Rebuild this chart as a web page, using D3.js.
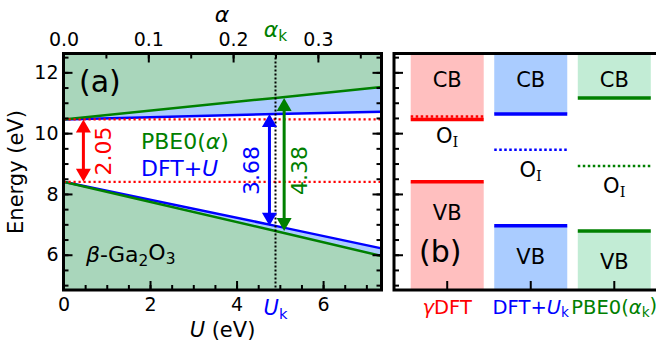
<!DOCTYPE html>
<html>
<head>
<meta charset="utf-8">
<script src="https://d3js.org/d3.v7.min.js"></script>
<style>
  body { margin: 0; background: #fff; }
  svg { display: block; font-family: "DejaVu Sans", sans-serif; }
  .axis path { display: none; }
  .axis line { stroke: #000; stroke-width: 2; }
  .axis text { font-size: 19px; fill: #000; font-family: "DejaVu Sans", sans-serif; }
</style>
</head>
<body>
<svg id="chart" width="656" height="343"></svg>
<script>
// panel (a): band edges against U (DFT+U) and alpha (PBE0)
const uPts = [0, 4.9, 7.35];
const dftuCB = [10.45, 10.63, 10.70];
const dftuVB = [8.40, 6.95, 6.21];
const alphaPts = [0, 0.25, 0.375];
const pbe0CB = [10.45, 11.16, 11.52];
const pbe0VB = [8.40, 6.78, 5.96];
const gdftCB = 10.45, gdftVB = 8.40;
const Uk = 4.9, alphaK = 0.25;
const gapLabels = ["2.05", "3.68", "4.38"];
const uTicks = [0, 2, 4, 6];
const alphaTicks = [0, 0.1, 0.2, 0.3];
const eTicks = [6, 8, 10, 12];

// panel (b): level diagram
const methods = ["gDFT", "DFTU", "PBE0"];
const cbLevels = [10.45, 10.63, 11.16];
const vbLevels = [8.40, 6.95, 6.78];
const oiLevels = [10.55, 9.45, 8.92];

const RED = "#ff0000", BLUE = "#0000ff", GREEN = "#008000";
const lineCols = [RED, BLUE, GREEN];
const fillsB = ["#ffbfbf", "#aaccff", "#c2ecd5"];

const svg = d3.select("#chart");
const yTop = 53.5, yBot = 290;

const y = d3.scaleLinear().domain([4.84, 12.62]).range([yBot, yTop]);
const x = d3.scaleLinear().domain([0, 7.35]).range([63.5, 381.5]);
const xa = d3.scaleLinear().domain([0, 0.375]).range([63.5, 381.5]);

// write text with italic / subscript pieces
function rich(sel, parts) {
    let shift = 0;
    parts.forEach(p => {
        const ts = sel.append("tspan").text(p.t);
        if (p.i) ts.attr("font-style", "italic");
        if (p.serif) ts.attr("font-family", "DejaVu Serif");
        const want = p.sub ? 0.25 : 0;
        if (want !== shift) { ts.attr("dy", (want - shift) + "em"); shift = want; }
        if (p.sub) ts.attr("font-size", "70%");
    });
    return sel;
}

// ---------- panel (a) ----------
const ga = svg.append("g");
ga.append("clipPath").attr("id", "clipA").append("rect")
    .attr("x", x.range()[0]).attr("y", yTop)
    .attr("width", x.range()[1] - x.range()[0]).attr("height", yBot - yTop);
const plotA = ga.append("g").attr("clip-path", "url(#clipA)");

const uRows = uPts.map((u, i) => ({ x: x(u), cb: dftuCB[i], vb: dftuVB[i] }));
const aRows = alphaPts.map((a, i) => ({ x: xa(a), cb: pbe0CB[i], vb: pbe0VB[i] }));

const areaUp = d3.area().x(d => d.x).y0(yTop).y1(d => y(d.cb));
const areaDn = d3.area().x(d => d.x).y0(yBot).y1(d => y(d.vb));
plotA.append("path").datum(uRows).attr("d", areaUp).attr("fill", "#abcbfe");
plotA.append("path").datum(uRows).attr("d", areaDn).attr("fill", "#abcbfe");
plotA.append("path").datum(aRows).attr("d", areaUp).attr("fill", "#a9d6bb");
plotA.append("path").datum(aRows).attr("d", areaDn).attr("fill", "#a9d6bb");

const lineCB = d3.line().x(d => d.x).y(d => y(d.cb));
const lineVB = d3.line().x(d => d.x).y(d => y(d.vb));
[[uRows, BLUE], [aRows, GREEN]].forEach(([rows, c]) => {
    plotA.append("path").datum(rows).attr("d", lineCB).attr("fill", "none")
        .attr("stroke", c).attr("stroke-width", 2.5);
    plotA.append("path").datum(rows).attr("d", lineVB).attr("fill", "none")
        .attr("stroke", c).attr("stroke-width", 2.5);
});

// gDFT reference levels
[gdftCB, gdftVB].forEach(e => {
    plotA.append("line").attr("x1", x.range()[0]).attr("x2", x.range()[1])
        .attr("y1", y(e)).attr("y2", y(e))
        .attr("stroke", RED).attr("stroke-width", 2.2).attr("stroke-dasharray", "2.2,2.8");
});

// U_k / alpha_k marker
plotA.append("line").attr("x1", x(Uk)).attr("x2", x(Uk)).attr("y1", yTop).attr("y2", yBot)
    .attr("stroke", "#000").attr("stroke-width", 2).attr("stroke-dasharray", "2,2");

function arrow(u, lo, hi, color) {
    const px = x(u), yb = y(lo), yt = y(hi), hl = 13, hw = 7.5;
    plotA.append("line").attr("x1", px).attr("x2", px).attr("y1", yb - hl + 1).attr("y2", yt + hl - 1)
        .attr("stroke", color).attr("stroke-width", 3);
    plotA.append("path").attr("fill", color)
        .attr("d", `M${px},${yt}L${px - hw},${yt + hl}L${px + hw},${yt + hl}Z`);
    plotA.append("path").attr("fill", color)
        .attr("d", `M${px},${yb}L${px - hw},${yb - hl}L${px + hw},${yb - hl}Z`);
}
arrow(0.46, gdftVB, gdftCB, RED);
arrow(4.76, dftuVB[1], dftuCB[1], BLUE);
arrow(5.10, pbe0VB[1], pbe0CB[1], GREEN);

function vlabel(u, e, txt, color) {
    plotA.append("text").attr("transform", `translate(${x(u)},${y(e)}) rotate(-90)`)
        .attr("text-anchor", "middle").attr("dy", "0.36em")
        .attr("font-size", 22).attr("fill", color).text(txt);
}
vlabel(0.91, 9.41, gapLabels[0], RED);
vlabel(4.33, 8.77, gapLabels[1], BLUE);
vlabel(5.44, 8.77, gapLabels[2], GREEN);

rich(plotA.append("text").attr("x", 141).attr("y", 149).attr("font-size", 22).attr("fill", GREEN),
    [{ t: "PBE0(" }, { t: "α", i: true }, { t: ")" }]);
rich(plotA.append("text").attr("x", 141).attr("y", 176).attr("font-size", 22).attr("fill", BLUE),
    [{ t: "DFT+" }, { t: "U", i: true }]);
rich(plotA.append("text").attr("x", 86).attr("y", 262).attr("font-size", 22).attr("fill", "#000"),
    [{ t: "β", i: true }, { t: "-Ga" }, { t: "2", sub: true }, { t: "O" }, { t: "3", sub: true }]);
plotA.append("text").attr("x", 79).attr("y", 92).attr("font-size", 30).text("(a)");

// axes of panel (a)
function tickAxis(axis, tf) {
    return g => { g.attr("class", "axis").call(axis); if (!tf) g.selectAll("text").remove(); };
}
const minorE = d3.range(5, 12.6, 0.5);
ga.append("g").attr("transform", `translate(${x.range()[0]},0)`)
    .call(tickAxis(d3.axisLeft(y).tickValues(minorE).tickSize(-5), false));
ga.append("g").attr("transform", `translate(${x.range()[0]},0)`)
    .call(tickAxis(d3.axisLeft(y).tickValues(eTicks).tickSize(-9).tickPadding(5).tickFormat(d3.format("d")), true));
ga.append("g").attr("transform", `translate(${x.range()[1]},0)`)
    .call(tickAxis(d3.axisRight(y).tickValues(minorE).tickSize(-5), false));
ga.append("g").attr("transform", `translate(${x.range()[1]},0)`)
    .call(tickAxis(d3.axisRight(y).tickValues(eTicks).tickSize(-9), false));
ga.append("g").attr("transform", `translate(0,${yBot})`)
    .call(tickAxis(d3.axisBottom(x).tickValues(d3.range(0, 7.3, 0.5)).tickSize(-5), false));
ga.append("g").attr("transform", `translate(0,${yBot})`)
    .call(tickAxis(d3.axisBottom(x).tickValues(uTicks).tickSize(-9).tickPadding(8).tickFormat(d3.format("d")), true));
ga.append("g").attr("transform", `translate(0,${yTop})`)
    .call(tickAxis(d3.axisTop(xa).tickValues(d3.range(0, 0.37, 0.05)).tickSize(-5), false));
ga.append("g").attr("transform", `translate(0,${yTop})`)
    .call(tickAxis(d3.axisTop(xa).tickValues(alphaTicks).tickSize(-9).tickPadding(8).tickFormat(d3.format(".1f")), true));
ga.append("rect").attr("x", x.range()[0]).attr("y", yTop)
    .attr("width", x.range()[1] - x.range()[0]).attr("height", yBot - yTop)
    .attr("fill", "none").attr("stroke", "#000").attr("stroke-width", 3);

rich(ga.append("text").attr("x", x(Uk)).attr("y", 315).attr("text-anchor", "middle")
    .attr("font-size", 21).attr("fill", BLUE), [{ t: "U", i: true }, { t: "k", sub: true }]);
rich(ga.append("text").attr("x", xa(alphaK)).attr("y", 37).attr("text-anchor", "middle")
    .attr("font-size", 22).attr("fill", GREEN), [{ t: "α", i: true }, { t: "k", sub: true }]);
rich(ga.append("text").attr("x", 222.5).attr("y", 337).attr("text-anchor", "middle").attr("font-size", 21),
    [{ t: "U", i: true }, { t: " (eV)" }]);
ga.append("text").attr("x", 222).attr("y", 22).attr("text-anchor", "middle")
    .attr("font-size", 22).attr("font-style", "italic").text("α");
ga.append("text").attr("transform", "translate(23,172) rotate(-90)").attr("text-anchor", "middle")
    .attr("font-size", 21).text("Energy (eV)");

// ---------- panel (b) ----------
const gb = svg.append("g");
const xb = d3.scaleBand().domain(methods).range([394, 667.5]).paddingInner(0.126).paddingOuter(0.2);
const bw = xb.bandwidth();

methods.forEach((m, i) => {
    const x0 = xb(m), cx = x0 + bw / 2;
    gb.append("rect").attr("x", x0).attr("y", yTop).attr("width", bw)
        .attr("height", y(cbLevels[i]) - yTop).attr("fill", fillsB[i]);
    gb.append("rect").attr("x", x0).attr("y", y(vbLevels[i])).attr("width", bw)
        .attr("height", yBot - y(vbLevels[i])).attr("fill", fillsB[i]);
    gb.append("line").attr("x1", x0).attr("x2", x0 + bw).attr("y1", y(oiLevels[i])).attr("y2", y(oiLevels[i]))
        .attr("stroke", lineCols[i]).attr("stroke-width", 2.5).attr("stroke-dasharray", "2.5,2.5");
    [cbLevels[i], vbLevels[i]].forEach(e => {
        gb.append("line").attr("x1", x0).attr("x2", x0 + bw).attr("y1", y(e)).attr("y2", y(e))
            .attr("stroke", lineCols[i]).attr("stroke-width", 3.5);
    });
    gb.append("text").attr("x", cx).attr("y", 86.5).attr("text-anchor", "middle")
        .attr("font-size", 21).text("CB");
    gb.append("text").attr("x", cx).attr("y", y(vbLevels[i]) + 38).attr("text-anchor", "middle")
        .attr("font-size", 21).text("VB");
    rich(gb.append("text").attr("x", cx).attr("y", y(oiLevels[i]) + 27).attr("text-anchor", "middle")
        .attr("font-size", 21), [{ t: "O" }, { t: "I", sub: true, serif: true }]);
});
gb.append("text").attr("x", 419).attr("y", 262).attr("font-size", 30).text("(b)");

const minorB = d3.range(5, 12.6, 0.5);
gb.append("g").attr("transform", "translate(394,0)")
    .call(tickAxis(d3.axisLeft(y).tickValues(minorB).tickSize(-5), false));
gb.append("g").attr("transform", "translate(394,0)")
    .call(tickAxis(d3.axisLeft(y).tickValues(eTicks).tickSize(-9), false));
gb.append("g").attr("transform", `translate(0,${yBot})`)
    .call(tickAxis(d3.axisBottom(xb).tickSize(-9).tickSizeOuter(0), false));
gb.append("rect").attr("x", 394).attr("y", yTop).attr("width", 667.5 - 394).attr("height", yBot - yTop)
    .attr("fill", "none").attr("stroke", "#000").attr("stroke-width", 3);

// method names under the columns
const nameParts = [
    [{ t: "γ", i: true }, { t: "DFT" }],
    [{ t: "DFT+" }, { t: "U", i: true }, { t: "k", sub: true }],
    [{ t: "PBE0(" }, { t: "α", i: true }, { t: "k", sub: true }, { t: ")" }]
];
methods.forEach((m, i) => {
    rich(gb.append("text").attr("x", xb(m) + bw / 2).attr("y", 313.5).attr("text-anchor", "middle")
        .attr("font-size", 19.5).attr("fill", lineCols[i]), nameParts[i]);
});
</script>
</body>
</html>
